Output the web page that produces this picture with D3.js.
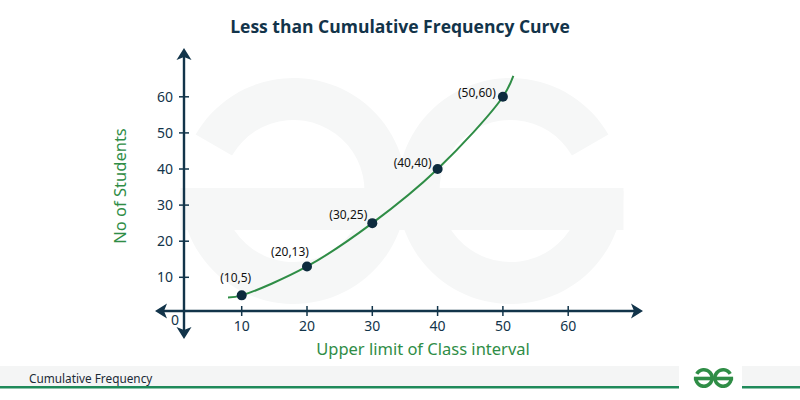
<!DOCTYPE html>
<html>
<head>
<meta charset="utf-8">
<script src="https://cdn.jsdelivr.net/npm/d3@7"></script>
<style>
  body { margin: 0; background: #fff; }
  svg { display: block; font-family: 'Noto Sans', sans-serif; }
</style>
</head>
<body>
<div id="chart"></div>
<script>
const upperLimits = [10, 20, 30, 40, 50];
const cumFreq = [5, 13, 25, 40, 60];
const pointLabels = ['(10,5)', '(20,13)', '(30,25)', '(40,40)', '(50,60)'];
const curveStart = [7.9, 4.4];
const curveEnd = [51.6, 65.8];
const xTicks = [10, 20, 30, 40, 50, 60];
const yTicks = [10, 20, 30, 40, 50, 60];

// label nudges (px) so they sit up-left of each dot
const labelShift = [[-6, -13], [-17, -10], [-24, -4], [-25, -2], [-26, 0]];

const width = 800, height = 400;
const navy = '#12344a', green = '#2f8d46';

const svg = d3.select('#chart').append('svg')
  .attr('width', width).attr('height', height);

const x = d3.scaleLinear().domain([0, 70]).range([176.4, 633.5]);
const y = d3.scaleLinear().domain([0, 70]).range([313.4, 60.7]);

// gfg glyph pair, used for the watermark and the footer logo
function logo(g, cx, cy, r, t, bar, color) {
  const d = r * 0.96;
  const arc = d3.arc().innerRadius(r - t).outerRadius(r);
  g.append('path')
    .attr('transform', `translate(${cx - d},${cy})`)
    .attr('d', arc({ startAngle: -Math.PI / 3, endAngle: 1.5 * Math.PI }))
    .attr('fill', color);
  g.append('path')
    .attr('transform', `translate(${cx + d},${cy})`)
    .attr('d', arc({ startAngle: Math.PI / 2, endAngle: 2 * Math.PI + Math.PI / 3 }))
    .attr('fill', color);
  g.append('rect')
    .attr('x', cx - d - r).attr('y', cy + bar - t / 2)
    .attr('width', 2 * (d + r)).attr('height', t)
    .attr('fill', color);
}

// watermark
logo(svg.append('g'), 402, 191, 113, 42, 18, '#f6f7f7');

// title
svg.append('text')
  .attr('x', 400).attr('y', 33)
  .attr('text-anchor', 'middle')
  .attr('font-family', "'Open Sans', sans-serif")
  .attr('font-weight', 700).attr('font-size', 17.5)
  .attr('fill', navy)
  .text('Less than Cumulative Frequency Curve');

// axes with arrows
const axisG = svg.append('g').attr('stroke', navy).attr('fill', navy);
const ax = 184, ay = 311;
axisG.append('line').attr('x1', ax).attr('x2', ax).attr('y1', 56).attr('y2', 330)
  .attr('stroke-width', 2.4);
axisG.append('line').attr('x1', 164).attr('x2', 634).attr('y1', ay).attr('y2', ay)
  .attr('stroke-width', 2.4);
const arrow = (pts) => axisG.append('path').attr('stroke', 'none')
  .attr('d', 'M' + pts.map(p => p.join(',')).join('L') + 'Z');
arrow([[ax, 48], [ax + 7.5, 60], [ax, 57], [ax - 7.5, 60]]);
arrow([[ax, 339], [ax + 7.5, 327], [ax, 330], [ax - 7.5, 327]]);
arrow([[155, ay], [167, ay - 7.5], [164, ay], [167, ay + 7.5]]);
arrow([[643, ay], [631, ay - 7.5], [634, ay], [631, ay + 7.5]]);

// ticks
axisG.selectAll('line.yt').data(yTicks).join('line').attr('class', 'yt')
  .attr('x1', ax - 5).attr('x2', ax + 5)
  .attr('y1', d => y(d)).attr('y2', d => y(d)).attr('stroke-width', 1.5);
axisG.selectAll('line.xt').data(xTicks).join('line').attr('class', 'xt')
  .attr('x1', d => x(d)).attr('x2', d => x(d))
  .attr('y1', ay - 5).attr('y2', ay + 5).attr('stroke-width', 1.5);

svg.selectAll('text.yl').data(yTicks).join('text').attr('class', 'yl')
  .attr('x', 173).attr('y', d => y(d)).attr('dy', '0.36em')
  .attr('text-anchor', 'end').attr('font-size', 14).attr('fill', navy)
  .text(d => d);
svg.selectAll('text.xl').data(xTicks).join('text').attr('class', 'xl')
  .attr('x', d => x(d)).attr('y', 331)
  .attr('text-anchor', 'middle').attr('font-size', 14).attr('fill', navy)
  .text(d => d);
svg.append('text').attr('x', 175).attr('y', 325)
  .attr('text-anchor', 'middle').attr('font-size', 14).attr('fill', navy).text('0');

// axis titles
svg.append('text')
  .attr('x', 423).attr('y', 355)
  .attr('text-anchor', 'middle').attr('font-size', 16.5).attr('fill', green)
  .text('Upper limit of Class interval');
svg.append('text')
  .attr('transform', 'translate(126,186) rotate(-90)')
  .attr('text-anchor', 'middle').attr('font-size', 16.5).attr('fill', green)
  .text('No of Students');

// curve
const pts = upperLimits.map((u, i) => [u, cumFreq[i]]);
const line = d3.line().x(d => x(d[0])).y(d => y(d[1])).curve(d3.curveCatmullRom.alpha(0.5));
svg.append('path')
  .attr('d', line([curveStart, ...pts, curveEnd]))
  .attr('fill', 'none').attr('stroke', green).attr('stroke-width', 2);

svg.selectAll('circle.pt').data(pts).join('circle').attr('class', 'pt')
  .attr('cx', d => x(d[0])).attr('cy', d => y(d[1])).attr('r', 5)
  .attr('fill', '#0d2b3e');

svg.selectAll('text.pl').data(pts).join('text').attr('class', 'pl')
  .attr('x', (d, i) => x(d[0]) + labelShift[i][0])
  .attr('y', (d, i) => y(d[1]) + labelShift[i][1])
  .attr('text-anchor', 'middle').attr('font-size', 12).attr('fill', '#111')
  .text((d, i) => pointLabels[i]);

// footer
svg.append('rect').attr('x', 0).attr('y', 366).attr('width', 679).attr('height', 20).attr('fill', '#f4f5f5');
svg.append('rect').attr('x', 742).attr('y', 366).attr('width', 58).attr('height', 20).attr('fill', '#f4f5f5');
svg.append('rect').attr('x', 0).attr('y', 386).attr('width', 679).attr('height', 2.5).attr('fill', '#1f8a5a');
svg.append('rect').attr('x', 742).attr('y', 386).attr('width', 58).attr('height', 2.5).attr('fill', '#1f8a5a');
svg.append('text').attr('x', 29).attr('y', 383)
  .attr('font-size', 11.8).attr('fill', '#1c2b36').text('Cumulative Frequency');
logo(svg.append('g'), 713.5, 378, 10, 3.6, 0.5, green);
</script>
</body>
</html>
